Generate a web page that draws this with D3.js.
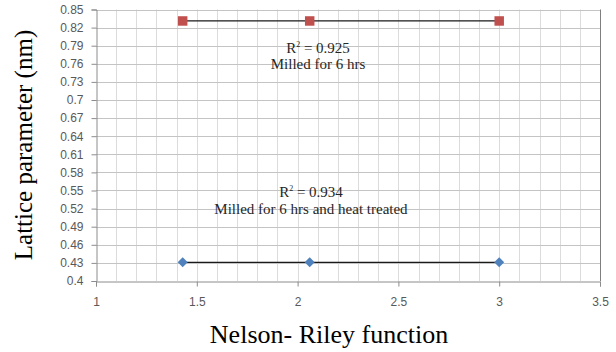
<!DOCTYPE html>
<html>
<head>
<meta charset="utf-8">
<script src="https://cdn.jsdelivr.net/npm/d3@7"></script>
<style>
  body { margin: 0; background: #fff; }
  svg { display: block; }
</style>
</head>
<body>
<div id="chart"></div>
<script>
// Nelson-Riley values
const nrValues = [1.43, 2.06, 3.0];
const milled = [0.831, 0.831, 0.831];
const milledHeat = [0.431, 0.431, 0.431];

const xTicks = [1, 1.5, 2, 2.5, 3, 3.5];
const yTicks = [0.4, 0.43, 0.46, 0.49, 0.52, 0.55, 0.58, 0.61, 0.64, 0.67, 0.7, 0.73, 0.76, 0.79, 0.82, 0.85];

const labels = [
  { r2: "0.925", name: "Milled for 6 hrs" },
  { r2: "0.934", name: "Milled for 6 hrs and heat treated" }
];

const W = 616, H = 352;
const plot = { left: 96, right: 600, top: 9.5, bottom: 281 };
const serif = "Liberation Serif";

const svg = d3.select("#chart").append("svg")
  .attr("width", W)
  .attr("height", H);

const x = d3.scaleLinear().domain([1, 3.5]).range([plot.left, plot.right]);
const y = d3.scaleLinear().domain([0.4, 0.85]).range([plot.bottom, plot.top]);

// vertical gridlines every 0.1
svg.append("g")
  .selectAll("line")
  .data(d3.range(11, 35).map(d => d / 10))
  .join("line")
    .attr("x1", d => Math.round(x(d)) + 0.5)
    .attr("x2", d => Math.round(x(d)) + 0.5)
    .attr("y1", plot.top)
    .attr("y2", plot.bottom)
    .attr("stroke", "#dcdcdc")
    .attr("stroke-width", 1);

// horizontal gridlines
svg.append("g")
  .selectAll("line")
  .data(yTicks.slice(1))
  .join("line")
    .attr("x1", plot.left)
    .attr("x2", plot.right)
    .attr("y1", d => Math.round(y(d)) + 0.5)
    .attr("y2", d => Math.round(y(d)) + 0.5)
    .attr("stroke", "#c4c4c4")
    .attr("stroke-width", 1);

// right border
svg.append("line")
  .attr("x1", Math.round(plot.right) + 0.5)
  .attr("x2", Math.round(plot.right) + 0.5)
  .attr("y1", plot.top)
  .attr("y2", plot.bottom)
  .attr("stroke", "#7f7f7f");

// axes
const yAxis = svg.append("g")
  .attr("transform", `translate(${plot.left + 0.5},0)`)
  .call(d3.axisLeft(y).tickValues(yTicks).tickFormat(d => String(+d.toFixed(2))).tickSize(5).tickPadding(8));

const xAxis = svg.append("g")
  .attr("transform", `translate(0,${Math.round(plot.bottom) + 0.5})`)
  .call(d3.axisBottom(x).tickValues(xTicks).tickFormat(d => String(d)).tickSize(5).tickPadding(11));

[yAxis, xAxis].forEach(g => {
  g.select(".domain").attr("stroke", "#8c8c8c");
  g.selectAll(".tick line").attr("stroke", "#8c8c8c");
  g.selectAll(".tick text")
    .attr("fill", "#595959")
    .attr("font-family", "'Liberation Sans', Arial, sans-serif")
    .attr("font-size", 12);
});

// trend lines + markers
const series = [
  { vals: milled, color: "#c0504d", size: 90, rot: 0 },
  { vals: milledHeat, color: "#4f81bd", size: 50, rot: 45 }
];

series.forEach(s => {
  const pts = nrValues.map((v, i) => [v, s.vals[i]]);
  svg.append("path")
    .datum(pts)
    .attr("fill", "none")
    .attr("stroke", "#1a1a1a")
    .attr("stroke-width", 1.2)
    .attr("d", d3.line().x(d => x(d[0])).y(d => y(d[1])));
  svg.append("g")
    .selectAll("path")
    .data(pts)
    .join("path")
      .attr("transform", d => `translate(${x(d[0])},${y(d[1])}) rotate(${s.rot})`)
      .attr("d", d3.symbol().type(d3.symbolSquare).size(s.size))
      .attr("fill", s.color);
});

// R² annotations
const annPos = [
  { cx: 318, y1: 53, y2: 69 },
  { cx: 311, y1: 197, y2: 214 }
];

labels.forEach((l, i) => {
  const p = annPos[i];
  const t = svg.append("text")
    .attr("x", p.cx)
    .attr("y", p.y1)
    .attr("text-anchor", "middle")
    .attr("font-family", serif)
    .attr("font-size", 15)
    .attr("fill", "#262626");
  t.append("tspan").text("R");
  t.append("tspan").attr("font-size", 8).attr("dy", -6).text("2");
  t.append("tspan").attr("dy", 6).text(" = " + l.r2);

  svg.append("text")
    .attr("x", p.cx)
    .attr("y", p.y2)
    .attr("text-anchor", "middle")
    .attr("font-family", serif)
    .attr("font-size", 15)
    .attr("fill", "#262626")
    .text(l.name);
});

// axis titles
svg.append("text")
  .attr("x", 329)
  .attr("y", 343)
  .attr("text-anchor", "middle")
  .attr("font-family", serif)
  .attr("font-size", 26)
  .attr("fill", "#000")
  .text("Nelson- Riley function");

svg.append("text")
  .attr("transform", "translate(32,145) rotate(-90)")
  .attr("text-anchor", "middle")
  .attr("font-family", serif)
  .attr("font-size", 25)
  .attr("fill", "#000")
  .text("Lattice parameter (nm)");
</script>
</body>
</html>
